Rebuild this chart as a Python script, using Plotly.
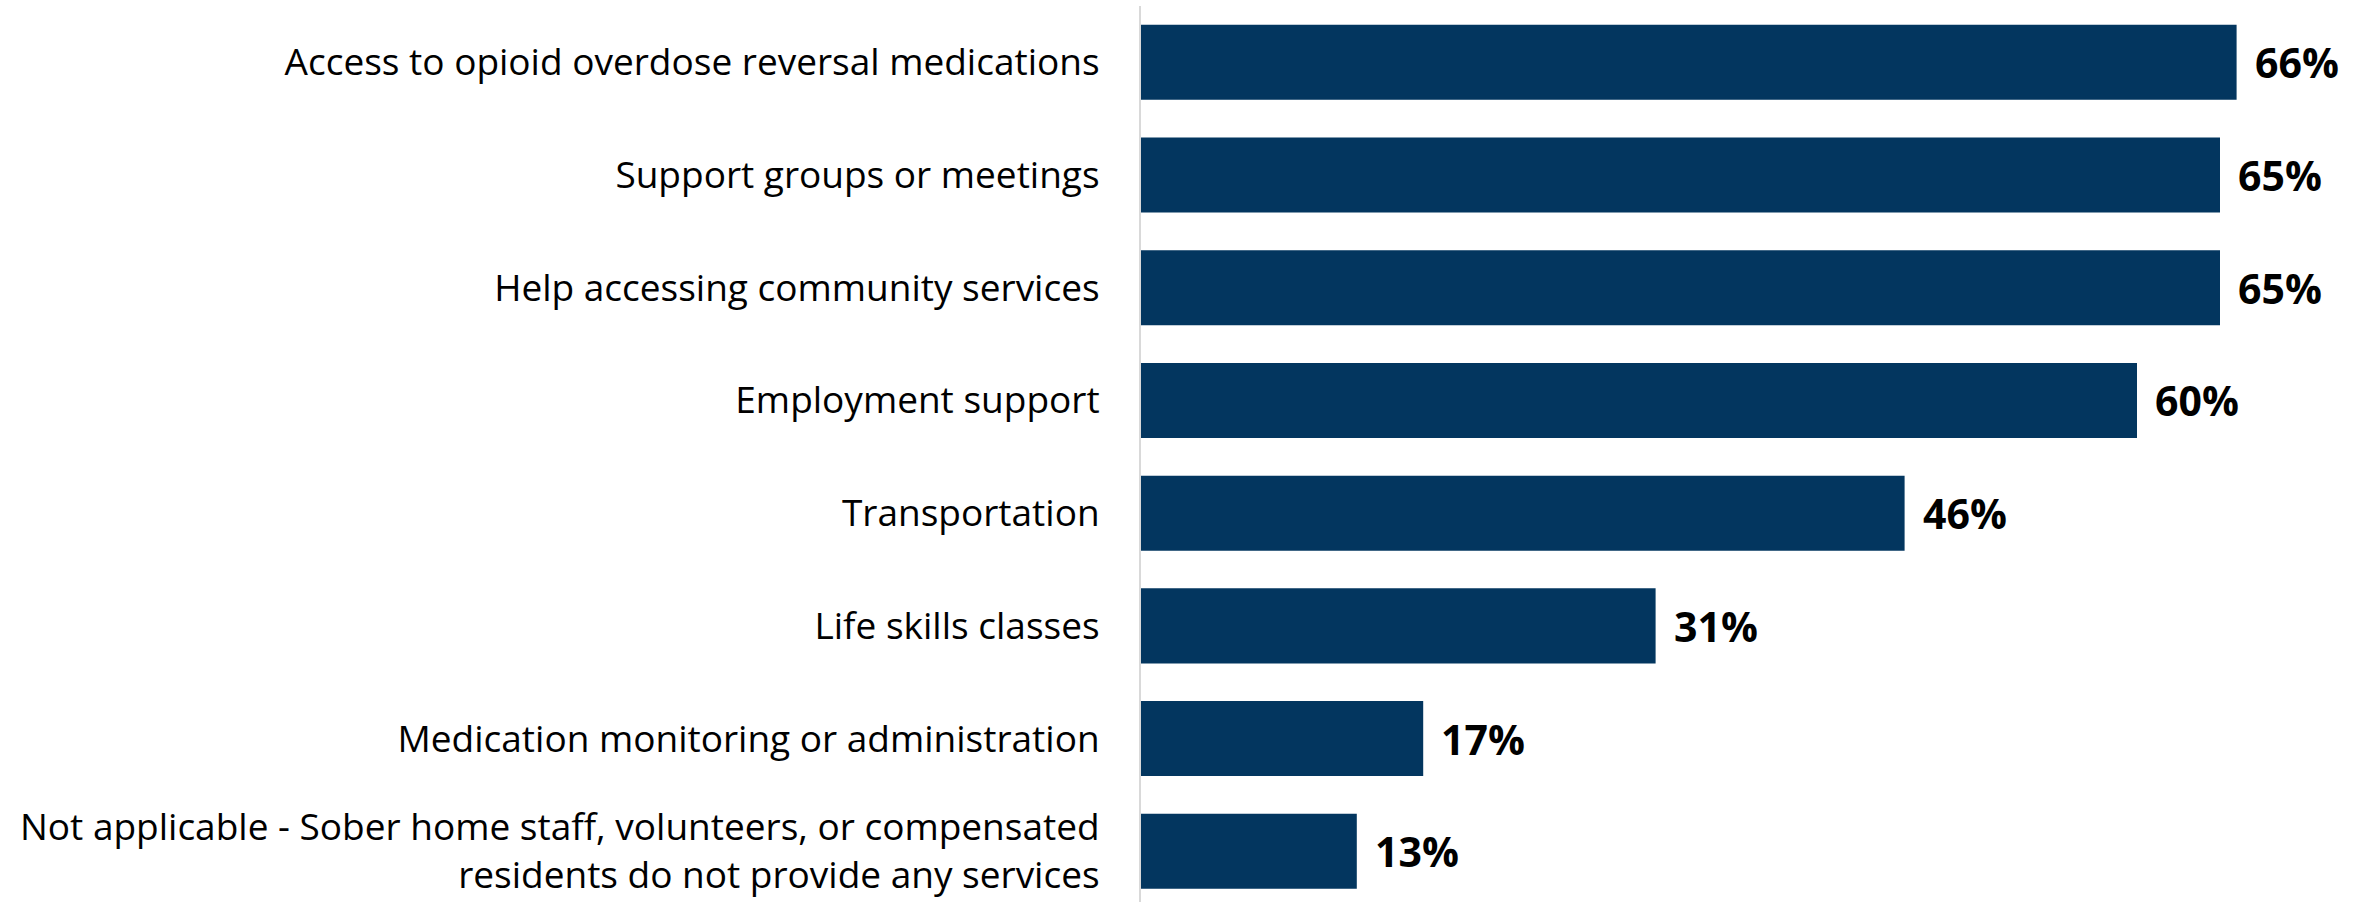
import plotly.graph_objects as go

categories = [
    "Access to opioid overdose reversal medications",
    "Support groups or meetings",
    "Help accessing community services",
    "Employment support",
    "Transportation",
    "Life skills classes",
    "Medication monitoring or administration",
    "Not applicable - Sober home staff, volunteers, or compensated<br>residents do not provide any services",
]
values = [66, 65, 65, 60, 46, 31, 17, 13]
value_labels = ["66%", "65%", "65%", "60%", "46%", "31%", "17%", "13%"]

BAR_COLOR = "#03365F"
FONT = "Open Sans"

fig = go.Figure()
fig.add_trace(go.Bar(
    x=values,
    y=categories,
    orientation="h",
    marker=dict(color=BAR_COLOR, line=dict(width=0)),
    hoverinfo="skip",
))

for c, v, t in zip(categories, values, value_labels):
    fig.add_annotation(
        x=v, y=c, xref="x", yref="y",
        text=f"<b>{t}</b>", showarrow=False,
        xanchor="left", yanchor="middle", xshift=16,
        font=dict(family=FONT, size=41, color="#000000"),
    )

fig.update_layout(
    template="none",
    width=2369, height=902,
    margin=dict(l=1141, r=66, t=6, b=0, pad=0),
    paper_bgcolor="white", plot_bgcolor="white",
    bargap=0.3345,
    showlegend=False,
    font=dict(family=FONT, size=37, color="#000000"),
)
fig.update_xaxes(
    range=[0, 70], visible=False, showgrid=False, zeroline=False,
    automargin=False,
)
fig.update_yaxes(
    type="category", categoryorder="array", categoryarray=categories,
    range=[7.45, -0.5], automargin=False,
    showline=True, linecolor="#D9D9D9", linewidth=2,
    showgrid=False, zeroline=False, ticks="", ticklabelstandoff=32,
    tickfont=dict(family=FONT, size=37, color="#000000"),
)

fig.write_html(
    "out.html",
    config={"displayModeBar": False, "staticPlot": True},
    post_script="document.body.style.margin='0';document.body.style.overflow='hidden';",
)
